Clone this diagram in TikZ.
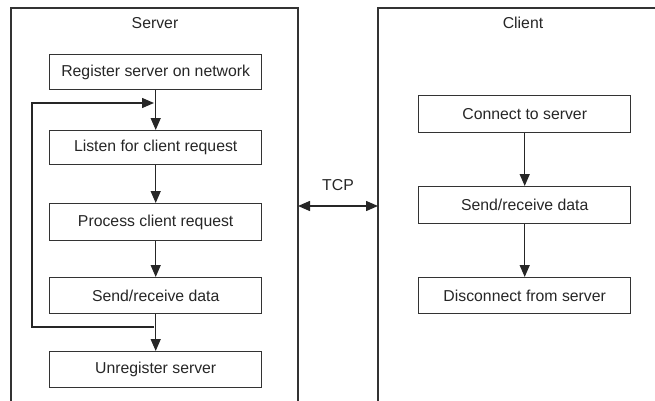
\documentclass[tikz,border=0pt]{standalone}
\usepackage{fontspec}
\setmainfont{Liberation Sans}
\usetikzlibrary{arrows.meta}
\begin{document}
\begin{tikzpicture}[x=1pt,y=-1pt,
  every node/.style={font=\fontsize{15.8}{18}\selectfont, text=black!85},
  stepbox/.style={draw=black!80, line width=1.4pt, minimum width=212pt, minimum height=36pt, inner sep=0pt, anchor=north west},
  frame/.style={draw=black!80, line width=1.4pt},
  flow/.style={draw=black!85, line width=1.4pt, -{Triangle[length=12pt,width=10pt]}},
  both/.style={draw=black!85, line width=1.4pt, {Triangle[length=12pt,width=10pt]}-{Triangle[length=12pt,width=10pt]}}]
\useasboundingbox (0,0) rectangle (655,401);
% outer frames
\draw[frame] (11,401) -- (11,8) -- (298,8) -- (298,401);
\draw[frame] (378,401) -- (378,8) -- (655,8);
\node (srv) at (155,23) {Server};
\node (cli) at (523,23) {Client};
% server steps
\node[stepbox, minimum height=35pt] (reg) at (49,54) {Register server on network};
\node[stepbox, minimum height=34pt] (lis) at (49,130) {Listen for client request};
\node[stepbox, minimum height=37pt] (pro) at (49,203) {Process client request};
\node[stepbox, minimum height=36pt] (snd) at (49,277) {Send/receive data};
\node[stepbox, minimum height=36pt] (unr) at (49,351) {Unregister server};
\coordinate (la) at (154,103);
\coordinate (lb) at (154,327);
\draw[flow] (reg.south) -- (lis.north);
\draw[flow] (lis.south) -- (pro.north);
\draw[flow] (pro.south) -- (snd.north);
\draw[flow] (snd.south) -- (unr.north);
\draw[flow] (lb) -- (32,327) -- (32,103) -- (la);
% client steps
\node[stepbox, minimum height=37pt] (con) at (418,95) {Connect to server};
\node[stepbox, minimum height=37pt] (csd) at (418,186) {Send/receive data};
\node[stepbox, minimum height=36pt] (dis) at (418,277) {Disconnect from server};
\draw[flow] (con.south) -- (csd.north);
\draw[flow] (csd.south) -- (dis.north);
% TCP
\coordinate (tl) at (298,206);
\coordinate (tr) at (378,206);
\draw[both] (tl) -- (tr);
\node (tcp) at (338,185) {TCP};
\end{tikzpicture}
\end{document}
